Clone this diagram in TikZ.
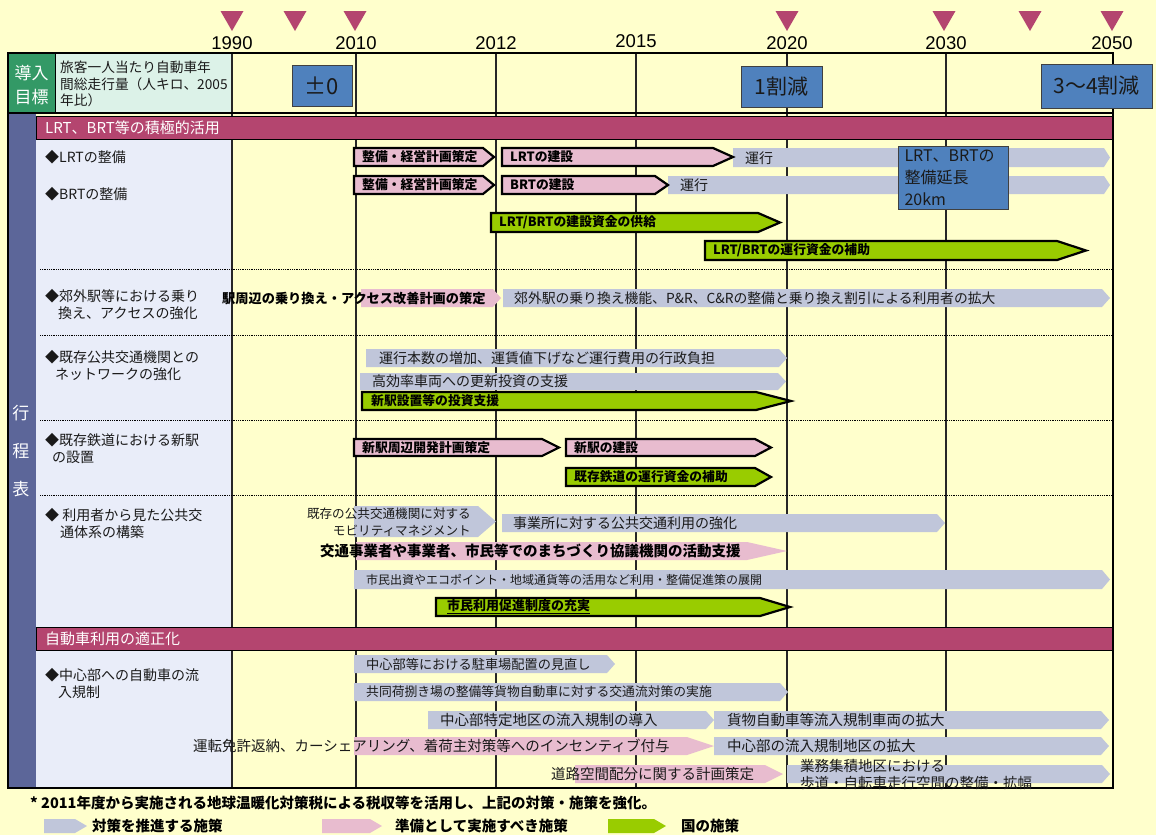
\documentclass[tikz,border=0pt]{standalone}
\usepackage{fontspec}
\setmainfont{Noto Sans CJK JP}
\newfontfamily\latinsans{Liberation Sans}
\definecolor{bgc}{HTML}{FFFFCC}
\definecolor{hdgreen}{HTML}{339966}
\definecolor{hdcyan}{HTML}{DCF2E8}
\definecolor{lav}{HTML}{E9EDF9}
\definecolor{darkcol}{HTML}{5C6699}
\definecolor{barc}{HTML}{B4456F}
\definecolor{pinkc}{HTML}{E8BCCF}
\definecolor{grayc}{HTML}{C0C6DA}
\definecolor{greenc}{HTML}{99CC00}
\definecolor{bluec}{HTML}{4F81BD}
\definecolor{txtc}{HTML}{1A1A1A}
\newcommand{\barr}[6]{\path[#1] (#2,#4) -- ({#3-#6},#4) -- (#3,{(#4+#5)/2}) -- ({#3-#6},#5) -- (#2,#5) -- cycle;}
\begin{document}
\begin{tikzpicture}[x=1pt,y=-1pt,
  txt/.style={inner sep=0pt, text=txtc, font=\fontsize{14}{17}\selectfont},
  btxt/.style={inner sep=0pt, text=black, font=\bfseries\fontsize{12.8}{15}\selectfont},
  gr/.style={fill=grayc},
  pkf/.style={fill=pinkc},
  gnf/.style={fill=greenc},
  pkb/.style={fill=pinkc, draw=black, line width=2.2pt},
  gnb/.style={fill=greenc, draw=black, line width=2.2pt},
  gline/.style={line width=1.1pt, draw=black!85},
  dotsep/.style={line width=0.8pt, densely dotted, draw=black},
  secbar/.style={fill=barc, draw=black, line width=0.8pt},
  bluebox/.style={fill=bluec, draw=black!75, line width=1pt, text=txtc},
  tri/.style={fill=barc},
  yr/.style={inner sep=0pt, font=\latinsans\fontsize{18.5}{20}\selectfont},
  lefttxt/.style={txt, anchor=west, align=left},
]
\useasboundingbox (0,0) rectangle (1156,835);
\fill[bgc] (0,0) rectangle (1156,835);

% triangles and years
\foreach \t in {232,295,355,787,944,1030,1112}
  \fill[tri] (\t-11.5,11) -- (\t+11.5,11) -- (\t,31) -- cycle;
\node[yr] (y1990) at (232,43) {1990};
\node[yr] (y2010) at (356,43) {2010};
\node[yr] (y2012) at (496,43) {2012};
\node[yr] (y2015) at (636,41) {2015};
\node[yr] (y2020) at (787,43) {2020};
\node[yr] (y2030) at (946,43) {2030};
\node[yr] (y2050) at (1112,43) {2050};

% header cells
\fill[hdgreen] (8,53) rectangle (55,113);
\fill[hdcyan] (55,53) rectangle (232,113);
\draw[line width=0.8pt] (55,53) -- (55,113);
% body columns
\fill[darkcol] (8,113) rectangle (36,788);
\fill[lav] (36,139) rectangle (232,627);
\fill[lav] (36,650) rectangle (232,788);

% grid
\foreach \g in {232,356,496,636,787,946}
  \draw[gline] (\g,53) -- (\g,788);
\foreach \d in {269,335,420,495}
  \draw[dotsep] (40,\d) -- (1113,\d);

% section bars
\path[secbar] (36,116) rectangle (1113,139);
\path[secbar] (36,627) rectangle (1113,650);

% frame
\draw[line width=2.5pt] (8,53) rectangle (1113,788);
\draw[line width=2.5pt] (8,113) -- (1113,113);

% header texts
\node[inner sep=0pt, text=white, align=center, font=\fontsize{17}{24}\selectfont] (goal) at (31.5,85) {導入\\目標};
\node[txt, anchor=north west, align=left, font=\fontsize{13.7}{16.5}\selectfont] (goaltxt) at (60,61) {旅客一人当たり自動車年\\間総走行量（人キロ、2005\\年比）};
\node[bluebox, minimum width=60pt, minimum height=41pt, font=\fontsize{22}{24}\selectfont] (t2010) at (322,85.5) {±0};
\node[bluebox, minimum width=81pt, minimum height=41pt, font=\fontsize{21}{24}\selectfont] (t2020) at (781.5,86.5) {1割減};
\node[bluebox, minimum width=111pt, minimum height=44pt, font=\fontsize{21}{24}\selectfont] (t2050) at (1096.5,86) {3〜4割減};

% left column texts
\node[inner sep=0pt, text=white, font=\fontsize{17}{20}\selectfont] (k1) at (21,413) {行};
\node[inner sep=0pt, text=white, font=\fontsize{17}{20}\selectfont] (k2) at (21,451) {程};
\node[inner sep=0pt, text=white, font=\fontsize{17}{20}\selectfont] (k3) at (21,489) {表};
\node[inner sep=0pt, text=white, anchor=west, font=\fontsize{15}{18}\selectfont] (sec1) at (45,128) {LRT、BRT等の積極的活用};
\node[inner sep=0pt, text=white, anchor=west, font=\fontsize{15}{18}\selectfont] (sec2) at (45,638.5) {自動車利用の適正化};

\node[lefttxt] (l1) at (45,157) {◆LRTの整備};
\node[lefttxt] (l2) at (45,194) {◆BRTの整備};
\node[lefttxt] (l3) at (45,304.5) {◆郊外駅等における乗り\\\hspace*{13pt}換え、アクセスの強化};
\node[lefttxt] (l4) at (45,365.5) {◆既存公共交通機関との\\\hspace*{10pt}ネットワークの強化};
\node[lefttxt] (l5) at (45,448.5) {◆既存鉄道における新駅\\\hspace*{7pt}の設置};
\node[lefttxt] (l6) at (45,523) {◆ 利用者から見た公共交\\\hspace*{15pt}通体系の構築};
\node[lefttxt] (l7) at (45,683.5) {◆中心部への自動車の流\\\hspace*{13pt}入規制};

% ---- arrows: LRT/BRT
\barr{gr}{733}{1110}{148}{167}{6}
\barr{gr}{668}{1110}{176}{194}{6}
\barr{pkb}{354}{494}{148}{166}{11}
\barr{pkb}{502}{733}{148}{166}{20}
\barr{pkb}{354}{494}{176}{194}{11}
\barr{pkb}{502}{668}{176}{194}{13}
\barr{gnb}{491}{780}{213}{232}{22}
\barr{gnb}{705}{1086}{241}{260}{29}
\node[btxt, anchor=west] (a1) at (362,157) {整備・経営計画策定};
\node[btxt, anchor=west] (a2) at (510,157) {LRTの建設};
\node[txt, anchor=west] (a3) at (745,158) {運行};
\node[btxt, anchor=west] (b1) at (362,185) {整備・経営計画策定};
\node[btxt, anchor=west] (b2) at (510,185) {BRTの建設};
\node[txt, anchor=west] (b3) at (680,185) {運行};
\node[bluebox, minimum width=110pt, minimum height=62pt, text width=98pt, align=left, font=\fontsize{16}{22}\selectfont] (ext) at (953.5,178) {LRT、BRTの\\整備延長\\20km};
\node[btxt, anchor=west] (g1) at (499,222.5) {LRT/BRTの建設資金の供給};
\node[btxt, anchor=west] (g2) at (713,250.5) {LRT/BRTの運行資金の補助};

% ---- 郊外
\barr{pkf}{361}{501}{289}{307}{8}
\barr{gr}{503}{1110}{289}{307}{8}
\node[btxt, anchor=west, font=\bfseries\fontsize{13.2}{15}\selectfont] (c1) at (222,298) {駅周辺の乗り換え・アクセス改善計画の策定};
\node[txt, anchor=west, font=\fontsize{13.8}{16}\selectfont] (c2) at (514,298) {郊外駅の乗り換え機能、P\&R、C\&Rの整備と乗り換え割引による利用者の拡大};

% ---- 既存公共
\barr{gr}{366}{787}{349}{367}{8}
\barr{gr}{360}{786}{373}{390}{8}
\barr{gnb}{362}{791}{392}{410}{35}
\node[txt, anchor=west] (d1) at (379,358) {運行本数の増加、運賃値下げなど運行費用の行政負担};
\node[txt, anchor=west] (d2) at (372,381.5) {高効率車両への更新投資の支援};
\node[btxt, anchor=west] (d3) at (371,401) {新駅設置等の投資支援};

% ---- 既存鉄道
\barr{pkb}{354}{559}{439}{456}{17}
\barr{pkb}{566}{771}{439}{456}{16}
\barr{gnb}{566}{771}{468}{486}{16}
\node[btxt, anchor=west] (e1) at (362,447.5) {新駅周辺開発計画策定};
\node[btxt, anchor=west] (e2) at (574,447.5) {新駅の建設};
\node[btxt, anchor=west] (e3) at (574,477) {既存鉄道の運行資金の補助};

% ---- 利用者
\barr{gr}{354}{496}{506}{537}{18}
\barr{gr}{502}{945}{514}{532}{8}
\barr{pkf}{356}{787}{542}{560}{40}
\barr{gr}{354}{1110}{570}{589}{8}
\barr{gnb}{436}{790}{598}{616}{30}
\node[txt, anchor=east, align=right, font=\fontsize{12.6}{17}\selectfont] (f1) at (471,522.5) {既存の公共交通機関に対する\\モビリティマネジメント};
\node[txt, anchor=west] (f2) at (513,523) {事業所に対する公共交通利用の強化};
\node[btxt, anchor=west, font=\bfseries\fontsize{14.5}{17}\selectfont] (f3) at (320,551) {交通事業者や事業者、市民等でのまちづくり協議機関の活動支援};
\node[txt, anchor=west, font=\fontsize{12}{15}\selectfont] (f4) at (366,579.5) {市民出資やエコポイント・地域通貨等の活用など利用・整備促進策の展開};
\node[btxt, anchor=west, font=\bfseries\fontsize{13}{15}\selectfont] (f5) at (447,607) {\underline{市民利用促進制度の充実}};

% ---- 自動車
\barr{gr}{354}{615}{655}{673}{8}
\barr{gr}{354}{788}{683}{701}{8}
\barr{gr}{428}{714}{711}{729}{8}
\barr{gr}{714}{1109}{711}{729}{8}
\barr{pkf}{354}{714}{737}{755}{27}
\barr{gr}{714}{1109}{737}{755}{8}
\barr{pkf}{575}{783}{765}{783}{18}
\barr{gr}{787}{1110}{765}{783}{8}
\node[txt, anchor=west, font=\fontsize{13.2}{15}\selectfont] (h1) at (366,664) {中心部等における駐車場配置の見直し};
\node[txt, anchor=west, font=\fontsize{12.8}{15}\selectfont] (h2) at (366,692) {共同荷捌き場の整備等貨物自動車に対する交通流対策の実施};
\node[txt, anchor=west, font=\fontsize{14.5}{17}\selectfont] (h3) at (440,720) {中心部特定地区の流入規制の導入};
\node[txt, anchor=west, font=\fontsize{14.5}{17}\selectfont] (h4) at (727,720) {貨物自動車等流入規制車両の拡大};
\node[txt, anchor=west, font=\fontsize{14.5}{17}\selectfont] (h5) at (193,746) {運転免許返納、カーシェアリング、着荷主対策等へのインセンティブ付与};
\node[txt, anchor=west, font=\fontsize{14.5}{17}\selectfont] (h6) at (727,746) {中心部の流入規制地区の拡大};
\node[txt, anchor=west, font=\fontsize{14.5}{17}\selectfont] (h7) at (551,774) {道路空間配分に関する計画策定};
\node[txt, anchor=west, align=left, font=\fontsize{14.5}{17}\selectfont] (h8) at (800,774.5) {業務集積地区における\\歩道・自転車走行空間の整備・拡幅};

% ---- footer
\node[btxt, anchor=west, font=\bfseries\fontsize{14.5}{17}\selectfont] (note) at (30,803) {* 2011年度から実施される地球温暖化対策税による税収等を活用し、上記の対策・施策を強化。};
\barr{gr}{44}{87}{819}{833}{12}
\barr{pkf}{322}{382}{819}{833}{12}
\barr{gnf}{608}{666}{819}{833}{12}
\node[btxt, anchor=west, font=\bfseries\fontsize{14.5}{17}\selectfont] (lg1) at (92,826) {対策を推進する施策};
\node[btxt, anchor=west, font=\bfseries\fontsize{14.5}{17}\selectfont] (lg2) at (395,826) {準備として実施すべき施策};
\node[btxt, anchor=west, font=\bfseries\fontsize{14.5}{17}\selectfont] (lg3) at (681,826) {国の施策};
\end{tikzpicture}
\end{document}
